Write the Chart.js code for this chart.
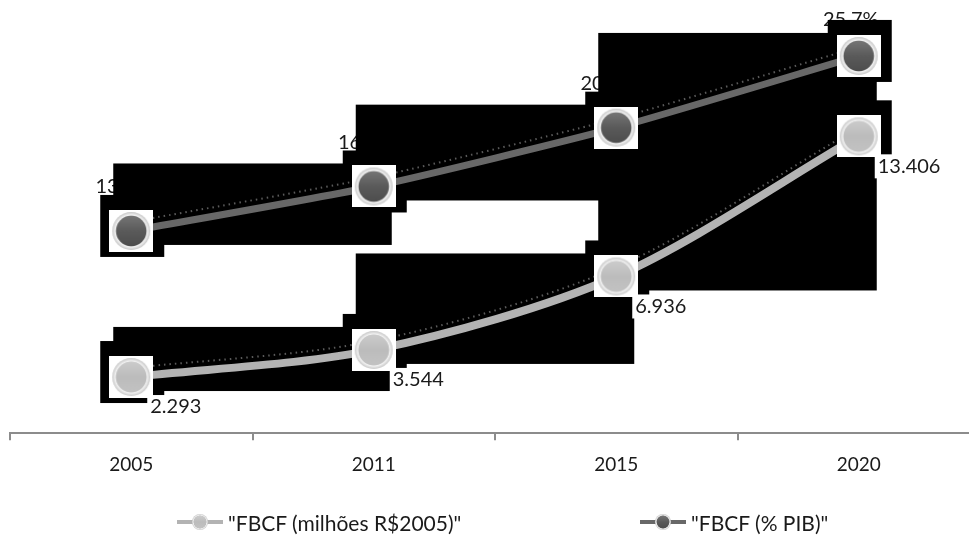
<!DOCTYPE html>
<html>
<head>
<meta charset="utf-8">
<script src="https://cdn.jsdelivr.net/npm/chart.js@4/dist/chart.umd.min.js"></script>
<style>
html, body { margin: 0; padding: 0; background: #fff; overflow: hidden; }
#wrap { position: relative; width: 980px; height: 535px; }
#legend { position: absolute; left: 0; top: 0; width: 969px; height: 535px; pointer-events: none;
	font-family: Lato, sans-serif; font-size: 21px; color: #1a1a1a; }
.item { position: absolute; top: 509px; height: 26px; display: flex; align-items: center; white-space: nowrap; }
.item canvas { margin-right: 5px; }
</style>
</head>
<body>
<div id="wrap">
	<canvas id="chart" width="980" height="535"></canvas>
	<div id="legend"></div>
</div>
<script>
var years = ['2005', '2011', '2015', '2020'];
var fbcfMilhoes = [2293, 3544, 6936, 13406];
var fbcfPib = [13.5, 16.6, 20.7, 25.7];
var seriesNames = ['"FBCF (milhões R$2005)"', '"FBCF (% PIB)"'];

var lineColors = ['#b3b3b3', '#686868'];
var legendLeft = [177, 640];

function fmtMilhoes(v) {
	return String(v).replace(/\B(?=(\d{3})+(?!\d))/g, '.');
}
function fmtPib(v) {
	return v.toFixed(1) + '%';
}

// marker: shaded disc with a light rim, on a white square
function markerImage(dark, w, h, r) {
	var c = document.createElement('canvas');
	c.width = w; c.height = h;
	var g = c.getContext('2d');
	var cx = w / 2, cy = h / 2;
	if (w > 30) {
		g.fillStyle = '#fff';
		g.fillRect(0, 0, w, h);
	}
	var rim = g.createRadialGradient(cx, cy, r * 0.7, cx, cy, r);
	rim.addColorStop(0, '#8c8c8c');
	rim.addColorStop(0.45, '#f2f2f2');
	rim.addColorStop(1, '#c8c8c8');
	g.fillStyle = rim;
	g.beginPath(); g.arc(cx, cy, r, 0, Math.PI * 2); g.fill();
	var body = g.createLinearGradient(cx, cy - r, cx, cy + r);
	if (dark) {
		body.addColorStop(0, '#7c7c7c');
		body.addColorStop(0.5, '#5a5a5a');
		body.addColorStop(1, '#4a4a4a');
	} else {
		body.addColorStop(0, '#cfcfcf');
		body.addColorStop(0.5, '#bcbcbc');
		body.addColorStop(1, '#c4c4c4');
	}
	g.fillStyle = body;
	g.beginPath(); g.arc(cx, cy, r * 0.8, 0, Math.PI * 2); g.fill();
	return c;
}

function drawLabels(chart, di) {
	var ctx = chart.ctx;
	var pts = chart.getDatasetMeta(di).data;
	var vals = chart.data.datasets[di].data;
	ctx.save();
	ctx.font = '20px Lato, sans-serif';
	ctx.textBaseline = 'middle';
	pts.forEach(function (p, i) {
		var text, x, y;
		if (di === 0) {
			text = fmtMilhoes(vals[i]);
			ctx.textAlign = 'left';
			x = p.x + 19; y = p.y + 30;
			var tw = ctx.measureText(text).width;
			ctx.fillStyle = '#fff';
			ctx.fillRect(x - 3, y - 12, tw + 6, 24);
		} else {
			text = fmtPib(vals[i]);
			ctx.textAlign = 'center';
			x = p.x - 8; y = Math.max(20, p.y - 44);
		}
		ctx.fillStyle = '#1a1a1a';
		ctx.fillText(text, x, y);
	});
	ctx.restore();
}

// black blocks behind the lines, as in the exported picture
var blackBlocks = {
	id: 'blackBlocks',
	beforeDatasetsDraw: function (chart) {
		var ctx = chart.ctx;
		drawLabels(chart, 1);
		ctx.save();
		ctx.fillStyle = '#000';
		chart.data.datasets.forEach(function (ds, di) {
			var pts = chart.getDatasetMeta(di).data;
			for (var i = 0; i < pts.length; i++) {
				var p = pts[i];
				ctx.fillRect(p.x - 31, p.y - 36, 64, 62);
				if (i < pts.length - 1) {
					var q = pts[i + 1];
					var top = Math.min(p.y, q.y) - 23;
					ctx.fillRect(p.x - 18, top, q.x - p.x + 36, Math.abs(q.y - p.y) + 37);
				}
			}
		});
		// dotted speckle trail just above each line
		chart.data.datasets.forEach(function (ds, di) {
			var line = chart.getDatasetMeta(di).dataset;
			line.updateControlPoints(chart.chartArea, 'x');
			ctx.save();
			ctx.translate(0, -9);
			ctx.beginPath();
			line.path(ctx);
			ctx.setLineDash([1.5, 4]);
			ctx.lineWidth = 2;
			ctx.strokeStyle = '#5a5a5a';
			ctx.stroke();
			ctx.restore();
		});
		ctx.restore();
	},
	afterDatasetsDraw: function (chart) {
		drawLabels(chart, 0);
	}
};

var chart = new Chart(document.getElementById('chart'), {
	type: 'line',
	data: {
		labels: years,
		datasets: [
			{
				label: seriesNames[0],
				data: fbcfMilhoes,
				yAxisID: 'y1',
				borderColor: lineColors[0],
				borderWidth: 8,
				tension: 0.3,
				pointStyle: markerImage(false, 44, 42, 19),
				pointRadius: 20
			},
			{
				label: seriesNames[1],
				data: fbcfPib,
				yAxisID: 'y2',
				borderColor: lineColors[1],
				borderWidth: 7,
				tension: 0.2,
				pointStyle: markerImage(true, 44, 42, 19),
				pointRadius: 20
			}
		]
	},
	options: {
		responsive: false,
		animation: false,
		layout: { autoPadding: false, padding: { left: 10, right: 0, top: 0, bottom: 46 } },
		plugins: {
			legend: { display: false },
			tooltip: { enabled: false }
		},
		scales: {
			x: {
				offset: true,
				border: { color: '#8c8c8c', width: 2 },
				grid: { offset: true, drawOnChartArea: false, drawTicks: true, tickLength: 7, tickColor: '#8c8c8c', lineWidth: 2 },
				ticks: { color: '#1a1a1a', padding: 13, font: { family: 'Lato', size: 19 } }
			},
			y1: { display: false, min: -300, max: 19700 },
			y2: { display: false, min: -0.6, max: 29.6 }
		}
	},
	plugins: [blackBlocks]
});

// legend
var legend = document.getElementById('legend');
seriesNames.forEach(function (name, i) {
	var item = document.createElement('div');
	item.className = 'item';
	item.style.left = legendLeft[i] + 'px';
	var icon = document.createElement('canvas');
	icon.width = 46; icon.height = 24;
	var g = icon.getContext('2d');
	g.strokeStyle = lineColors[i];
	g.lineWidth = 4;
	g.beginPath(); g.moveTo(0, 12); g.lineTo(46, 12); g.stroke();
	g.drawImage(markerImage(i === 1, 20, 20, 8), 13, 2);
	item.appendChild(icon);
	var span = document.createElement('span');
	span.textContent = name;
	item.appendChild(span);
	legend.appendChild(item);
});
</script>
</body>
</html>
